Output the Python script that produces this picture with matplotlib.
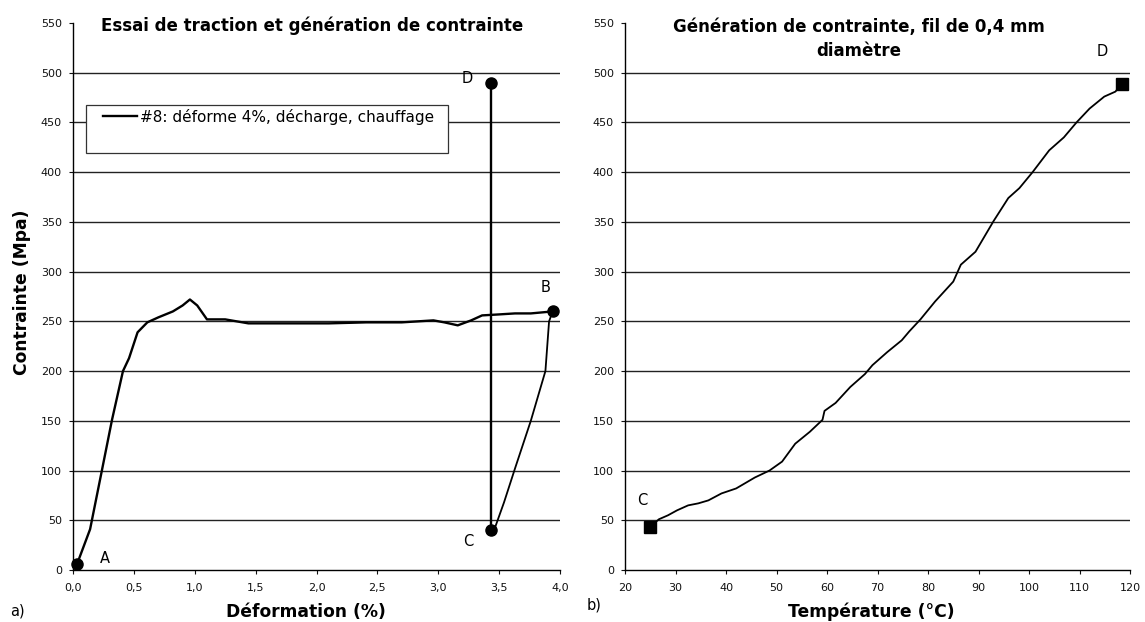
import matplotlib
matplotlib.use("Agg")
import matplotlib.pyplot as plt
from matplotlib.patches import Rectangle
from matplotlib.ticker import FuncFormatter

plt.rcParams['font.family'] = ['DejaVu Sans']

# (a) Tensile test: loading A -> B, unloading B -> C, heating C -> D
strain_load = [0.03, 0.14, 0.24, 0.32, 0.41, 0.46, 0.53, 0.61, 0.70, 0.82, 0.90, 0.96,
               1.02, 1.10, 1.25, 1.44, 1.80, 2.10, 2.41, 2.70, 2.96, 3.05, 3.16, 3.27,
               3.36, 3.50, 3.63, 3.76, 3.94]
stress_load = [5, 41, 102, 151, 200, 213, 239, 249, 254, 260, 266, 272,
               266, 252, 252, 248, 248, 248, 249, 249, 251, 249, 246, 251,
               256, 257, 258, 258, 260]
strain_unload = [3.94, 3.91, 3.88, 3.76, 3.63, 3.54, 3.47, 3.43]
stress_unload = [260, 250, 200, 150, 102, 68, 44, 40]
strain_heat = [3.43, 3.43]
stress_heat = [40, 490]

points_a = {"A": (0.03, 6), "B": (3.94, 260), "C": (3.43, 40), "D": (3.43, 490)}
labels_a = {"A": (0.26, 12), "B": (3.88, 284), "C": (3.25, 29), "D": (3.24, 494)}

# (b) Stress generation during heating, 0.4 mm wire
temperature = [24.9, 26.7, 28.5, 30.3, 32.5, 34.5, 36.5, 39.1, 42.0, 45.7, 48.6, 51.1,
               53.7, 56.6, 59.1, 59.5, 61.7, 64.6, 67.5, 69.0, 71.9, 74.8, 76.3, 78.5,
               81.4, 85.0, 86.5, 89.4, 93.0, 95.9, 98.1, 100.7, 104.0, 106.9, 109.4,
               112.0, 114.9, 117.1, 118.5]
stress_b = [43, 51, 55, 60, 65, 67, 70, 77, 82, 93, 100, 109,
            127, 139, 151, 160, 168, 184, 197, 206, 219, 231, 240, 252,
            270, 290, 307, 320, 351, 374, 384, 400, 422, 435, 450,
            464, 476, 481, 489]

x_ticks_a = [0.0, 0.5, 1.0, 1.5, 2.0, 2.5, 3.0, 3.5, 4.0]
x_ticks_b = list(range(20, 121, 10))
y_ticks = list(range(0, 551, 50))

fig = plt.figure(figsize=(11.45, 6.22), dpi=100)
ax1 = fig.add_axes([0.0638, 0.0836, 0.4253, 0.8794])
ax2 = fig.add_axes([0.5459, 0.0836, 0.4410, 0.8794])

tick_font = 8
label_font = 12.3
title_font = 12


def style_axes(ax):
    ax.set_ylim(0, 550)
    ax.set_yticks(y_ticks)
    ax.spines['top'].set_visible(False)
    ax.spines['right'].set_visible(False)
    ax.spines['left'].set_linewidth(1.0)
    ax.spines['bottom'].set_linewidth(1.0)
    ax.tick_params(axis='both', labelsize=tick_font, length=3, width=0.8, colors='#111')
    ax.tick_params(axis='x', pad=6)
    ax.tick_params(axis='y', pad=5)
    ax.yaxis.grid(True, color='#222', linewidth=1.0)
    ax.set_axisbelow(True)
    gl = ax.get_ygridlines()
    gl[0].set_visible(False)
    gl[-1].set_visible(False)


# ---- panel (a)
style_axes(ax1)
ax1.set_xlim(0, 4.0)
ax1.set_xticks(x_ticks_a)
ax1.xaxis.set_major_formatter(FuncFormatter(lambda v, p: f"{v:.1f}".replace('.', ',')))
line, = ax1.plot(strain_load, stress_load, color='black', lw=1.7,
                 label="#8: déforme 4%, décharge, chauffage")
ax1.plot(strain_unload, stress_unload, color='black', lw=1.3)
ax1.plot(strain_heat, stress_heat, color='black', lw=1.7)
for k, (px, py) in points_a.items():
    ax1.plot(px, py, 'o', color='black', ms=8, clip_on=False, zorder=6)
    lx, ly = labels_a[k]
    ax1.text(lx, ly, k, fontsize=10.5, ha='center', va='center')

# legend box with the entry sitting in its upper part
ax1.add_patch(Rectangle((0.027, 0.762), 0.743, 0.089, transform=ax1.transAxes,
                        facecolor='white', edgecolor='#333', linewidth=0.9, zorder=3))
ax1.legend(handles=[line], loc='center left', bbox_to_anchor=(0.0616, 0.829),
           fontsize=11, frameon=False, borderpad=0, borderaxespad=0,
           handlelength=2.2, handletextpad=0.2)

ax1.text(0.491, 0.9945, "Essai de traction et génération de contrainte", transform=ax1.transAxes,
         ha='center', va='center', fontsize=title_font, fontweight='bold')
ax1.set_xlabel("Déformation (%)", fontsize=label_font, fontweight='bold')
ax1.xaxis.label.set_va('center')
ax1.xaxis.set_label_coords(0.478, -0.0768)
ax1.set_ylabel("Contrainte (Mpa)", fontsize=label_font, fontweight='bold')
ax1.yaxis.label.set_va('center')
ax1.yaxis.set_label_coords(-0.1047, 0.508)

# ---- panel (b)
style_axes(ax2)
ax2.set_xlim(20, 120)
ax2.set_xticks(x_ticks_b)
ax2.plot(temperature, stress_b, color='black', lw=1.3)
ax2.plot([temperature[0]], [stress_b[0]], 's', color='black', ms=8, zorder=6)
ax2.plot([temperature[-1]], [stress_b[-1]], 's', color='black', ms=8, zorder=6, clip_on=False)
ax2.text(23.4, 70, "C", fontsize=10.5, ha='center', va='center')
ax2.text(114.5, 521, "D", fontsize=10.5, ha='center', va='center')

ax2.text(0.463, 0.9927, "Génération de contrainte, fil de 0,4 mm", transform=ax2.transAxes,
         ha='center', va='center', fontsize=title_font, fontweight='bold')
ax2.text(0.463, 0.949, "diamètre", transform=ax2.transAxes,
         ha='center', va='center', fontsize=title_font, fontweight='bold')
ax2.set_xlabel("Température (°C)", fontsize=label_font, fontweight='bold')
ax2.xaxis.label.set_va('center')
ax2.xaxis.set_label_coords(0.487, -0.0768)

fig.text(10 / 1145, 1 - 611 / 622, "a)", fontsize=10.5, ha='left', va='center')
fig.text(587 / 1145, 1 - 605 / 622, "b)", fontsize=10.5, ha='left', va='center')

fig.savefig("out.png", dpi=100)
